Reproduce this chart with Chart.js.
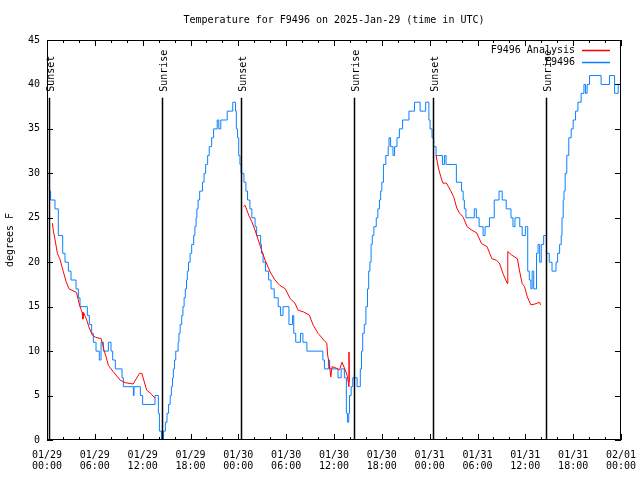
<!DOCTYPE html>
<html>
<head>
<meta charset="utf-8">
<script src="https://cdn.jsdelivr.net/npm/chart.js@4.4.1/dist/chart.umd.min.js"></script>
<style>
  html, body { margin: 0; padding: 0; background: #fff; }
  canvas { display: block; }
</style>
</head>
<body>
<canvas id="tempChart" width="640" height="480"></canvas>
<script>
const chartTitle = "Temperature for F9496 on 2025-Jan-29 (time in UTC)";
const yAxisTitle = "degrees F";

// x tick labels, one per 6 hours
const xTickDates = ["01/29", "01/29", "01/29", "01/29", "01/30", "01/30", "01/30", "01/30", "01/31", "01/31", "01/31", "01/31", "02/01"];
const xTickTimes = ["00:00", "06:00", "12:00", "18:00", "00:00", "06:00", "12:00", "18:00", "00:00", "06:00", "12:00", "18:00", "00:00"];

// sunrise / sunset markers (hours since 01/29 00:00)
const eventHours = [0.29, 14.47, 24.34, 38.56, 48.47, 62.65];
const eventLabels = ["Sunset", "Sunrise", "Sunset", "Sunrise", "Sunset", "Sunrise"];
const eventTop = 38.5;

// F9496 observations (hour, degrees F)
const obsHours = [
  0.0, 0.3, 0.45, 1.0, 1.42, 1.97, 2.26, 2.68, 3.01, 3.64,
  3.93, 4.14, 5.06, 5.31, 5.6, 5.81, 6.15, 6.56, 6.78, 7.07,
  7.7, 8.03, 8.24, 8.57, 9.41, 9.58, 10.83, 10.92, 11.71, 12.0,
  13.55, 13.97, 14.1, 14.35, 14.6, 14.85, 15.05, 15.25, 15.45, 15.6,
  15.75, 15.85, 16.0, 16.15, 16.45, 16.55, 16.7, 16.9, 17.05, 17.2,
  17.35, 17.5, 17.6, 17.75, 17.95, 18.15, 18.4, 18.55, 18.7, 18.8,
  18.95, 19.15, 19.5, 19.7, 19.9, 20.15, 20.35, 20.65, 20.9, 21.35,
  21.55, 21.8, 22.6, 23.3, 23.65, 23.75, 23.9, 24.05, 24.2, 24.35,
  24.7, 24.95, 25.15, 25.45, 25.7, 26.1, 26.3, 26.8, 26.9, 27.1,
  27.4, 27.8, 28.1, 28.5, 29.0, 29.3, 29.6, 30.35, 30.8, 30.95,
  31.2, 31.8, 32.1, 32.6, 34.6, 34.8, 35.3, 35.45, 36.5, 36.9,
  37.3, 37.55, 37.7, 37.85, 37.95, 38.15, 38.35, 38.9, 39.3, 39.45,
  39.6, 39.8, 40.0, 40.2, 40.35, 40.5, 40.65, 40.8, 41.0, 41.3,
  41.5, 41.7, 41.85, 42.0, 42.2, 42.5, 42.8, 42.9, 43.1, 43.4,
  43.6, 43.9, 44.2, 44.6, 45.4, 46.1, 46.8, 47.5, 47.9, 48.05,
  48.3, 48.5, 48.8, 49.6, 49.85, 50.05, 51.35, 52.0, 52.2, 52.35,
  52.55, 53.6, 53.85, 54.2, 54.7, 54.95, 55.5, 56.1, 56.7, 57.1,
  57.6, 58.2, 58.45, 58.7, 59.3, 59.6, 60.0, 60.3, 60.5, 60.7,
  60.85, 61.05, 61.4, 61.6, 61.8, 62.0, 62.3, 62.65, 63.0, 63.35,
  63.85, 64.05, 64.3, 64.5, 64.6, 64.75, 64.85, 65.0, 65.2, 65.45,
  65.75, 66.0, 66.3, 66.6, 67.0, 67.35, 67.55, 67.75, 68.05, 69.5,
  70.55, 71.2, 71.65, 72.0
];
const obsTemps = [
  30, 28, 27, 26, 23, 21, 20, 19, 18, 17,
  16, 15, 14, 13, 12, 11, 10, 9, 11, 10,
  11, 10, 9, 8, 7, 6, 5, 6, 5, 4,
  5, 3, 1, 0, 1, 2, 3, 4, 5, 6,
  7, 8, 9, 10, 11, 12, 13, 14, 15, 16,
  17, 18, 19, 20, 21, 22, 23, 24, 25, 26,
  27, 28, 29, 30, 31, 32, 33, 34, 35, 36,
  35, 36, 37, 38, 37, 35, 34, 32, 31, 30,
  29, 28, 27, 26, 25, 24, 23, 22, 21, 20,
  19, 18, 17, 16, 15, 14, 15, 13, 14, 12,
  11, 12, 11, 10, 9, 8, 9, 8, 7, 8,
  7, 3, 2, 3, 5, 6, 7, 6, 8, 10,
  12, 13, 15, 17, 19, 20, 22, 23, 24, 25,
  26, 27, 28, 29, 31, 32, 33, 34, 33, 32,
  33, 34, 35, 36, 37, 38, 37, 38, 36, 35,
  34, 33, 32, 31, 32, 31, 29, 28, 27, 26,
  25, 26, 25, 24, 23, 24, 25, 27, 28, 27,
  26, 25, 24, 25, 24, 23, 24, 19, 18, 17,
  19, 17, 21, 22, 20, 22, 23, 21, 20, 19,
  20, 21, 22, 23, 25, 27, 28, 30, 32, 34,
  35, 36, 37, 38, 39, 40, 39, 40, 41, 40,
  41, 39, 40, 40
];

// F9496 analysis (hour, degrees F), null = gap
const anlHours = [
  0.67, 0.8, 1.0, 1.3, 1.6, 2.0, 2.4, 2.76, 3.7, 4.1,
  4.4, 4.5, 4.6, 4.9, 5.3, 5.7, 6.1, 6.8, 7.15, 7.4,
  7.7, 8.3, 9.16, 9.8, 10.8, 11.6, 11.9, 12.5, 13.0, 13.55,
  18,
  24.65, 24.85, 25.3, 25.7, 26.1, 26.5, 26.9, 27.35, 28.0, 28.6,
  29.2, 29.9, 30.5, 31.1, 31.5, 32.2, 32.9, 33.4, 34.0, 34.9,
  35.1, 35.2, 35.4, 35.6, 35.75, 36.35, 36.7, 37.0, 37.4, 37.7,
  37.85, 37.88, 37.92,
  43,
  48.8, 49.1, 49.4, 49.65, 50.1, 50.6, 51.0, 51.4, 51.75, 52.2,
  52.7, 53.3, 53.9, 54.5, 55.2, 55.8, 56.4, 56.75, 57.25, 57.75,
  57.8, 58.3, 59.0, 59.3, 59.6, 59.9, 60.25, 60.7, 61.2, 61.8,
  61.9
];
const anlTemps = [
  24.4, 23.5, 22.6, 21.0, 20.4, 19.1, 17.8, 17.0, 16.6, 15.1,
  14.4, 13.6, 14.3, 13.7, 12.6, 11.8, 11.55, 11.4, 10.1, 9.4,
  8.4, 7.7, 6.75, 6.45, 6.3, 7.5, 7.5, 5.6, 5.25, 4.7,
  null,
  26.25, 26.4, 25.3, 24.55, 23.6, 22.5, 21.4, 20.25, 18.9, 18.0,
  17.4, 17.0, 15.9, 15.4, 14.6, 14.4, 14.06, 12.9, 12.0, 11.06,
  10.9, 9.56, 8.6, 7.1, 8.25, 8.06, 7.9, 8.75, 7.9, 7.1,
  6.0, 9.9, 6.5,
  null,
  32.06, 30.6, 29.6, 28.9, 28.9, 28.1, 27.4, 26.1, 25.5, 25.1,
  24.0, 23.6, 23.3, 22.1, 21.75, 20.4, 20.2, 19.9, 18.6, 17.6,
  21.2, 20.8, 20.4, 18.9, 17.6, 17.25, 16.1, 15.2, 15.3, 15.5,
  15.2
];

const FONT = '"DejaVu Sans Mono", monospace';

const gnuplotDecor = {
  id: "gnuplotDecor",
  afterDatasetsDraw(chart) {
    const { ctx, scales: { x, y } } = chart;
    ctx.save();
    ctx.strokeStyle = "#000";
    ctx.fillStyle = "#000";
    ctx.lineWidth = 1.5;
    ctx.font = "10px " + FONT;
    eventHours.forEach((h, i) => {
      const px = Math.round(x.getPixelForValue(h)) + 0.5;
      const top = y.getPixelForValue(eventTop);
      ctx.beginPath();
      ctx.moveTo(px, y.getPixelForValue(0));
      ctx.lineTo(px, top);
      ctx.stroke();
      ctx.save();
      ctx.translate(px + 2, top - 6);
      ctx.rotate(-Math.PI / 2);
      ctx.textAlign = "left";
      ctx.textBaseline = "middle";
      ctx.fillText(eventLabels[i], 0, 0);
      ctx.restore();
    });
    ctx.restore();
  },
  afterDraw(chart) {
    const { ctx, chartArea: a, scales: { x, y } } = chart;
    ctx.save();
    ctx.strokeStyle = "#000";
    ctx.lineWidth = 1;

    // plot border
    ctx.strokeRect(a.left + 0.5, a.top + 0.5, a.right - a.left - 1, a.bottom - a.top - 1);

    // inward ticks, mirrored
    ctx.beginPath();
    x.ticks.forEach(t => {
      const px = Math.round(x.getPixelForValue(t.value)) + 0.5;
      const len = t.value % 6 === 0 ? 6 : 3;
      ctx.moveTo(px, a.bottom); ctx.lineTo(px, a.bottom - len);
      ctx.moveTo(px, a.top); ctx.lineTo(px, a.top + len);
    });
    y.ticks.forEach(t => {
      const py = Math.round(y.getPixelForValue(t.value)) + 0.5;
      ctx.moveTo(a.left, py); ctx.lineTo(a.left + 6, py);
      ctx.moveTo(a.right, py); ctx.lineTo(a.right - 6, py);
    });
    ctx.stroke();

    // title
    ctx.fillStyle = "#000";
    ctx.font = "10px " + FONT;
    ctx.textAlign = "center";
    ctx.textBaseline = "middle";
    ctx.fillText(chartTitle, (a.left + a.right) / 2, 20);

    // key
    chart.data.datasets.forEach((ds, i) => {
      const ry = a.top + 10 + i * 12;
      ctx.textAlign = "right";
      ctx.fillStyle = "#000";
      ctx.fillText(ds.label, a.right - 46, ry);
      ctx.strokeStyle = ds.borderColor;
      ctx.lineWidth = 1.5;
      ctx.beginPath();
      ctx.moveTo(a.right - 39, ry + 0.5);
      ctx.lineTo(a.right - 11, ry + 0.5);
      ctx.stroke();
    });
    ctx.restore();
  }
};

new Chart(document.getElementById("tempChart").getContext("2d"), {
  type: "line",
  data: {
    datasets: [
      {
        label: "F9496 Analysis",
        data: anlHours.map((h, i) => ({ x: h, y: anlTemps[i] })),
        borderColor: "#ff0000",
        borderWidth: 1,
        pointRadius: 0,
        spanGaps: false,
      },
      {
        label: "F9496",
        data: obsHours.map((h, i) => ({ x: h, y: obsTemps[i] })),
        borderColor: "#0a80ff",
        borderWidth: 1,
        pointRadius: 0,
        stepped: true,
      },
    ],
  },
  options: {
    responsive: false,
    animation: false,
    devicePixelRatio: 1,
    layout: { padding: { top: 40, right: 19, left: 0, bottom: 0 } },
    plugins: {
      legend: { display: false },
      tooltip: { enabled: false },
      title: { display: false },
    },
    scales: {
      x: {
        type: "linear",
        min: 0,
        max: 72,
        grid: { display: false, drawTicks: false },
        border: { display: false },
        ticks: {
          stepSize: 2,
          autoSkip: false,
          maxRotation: 0,
          padding: 10,
          color: "#000",
          font: { family: FONT, size: 10, lineHeight: 1.1 },
          callback: v => (v % 6 === 0 ? [xTickDates[v / 6], xTickTimes[v / 6]] : ""),
        },
        afterFit: s => {
          s.height = 40;
          s.paddingLeft = 0;
          s.paddingRight = 0;
        },
      },
      y: {
        min: 0,
        max: 45,
        grid: { display: false, drawTicks: false },
        border: { display: false },
        ticks: {
          stepSize: 5,
          padding: 7,
          color: "#000",
          font: { family: FONT, size: 10 },
        },
        title: {
          display: true,
          text: yAxisTitle,
          color: "#000",
          padding: { top: 4, bottom: 0 },
          font: { family: FONT, size: 10 },
        },
        afterFit: s => {
          s.width = 47;
          s.paddingTop = 0;
          s.paddingBottom = 0;
        },
      },
    },
  },
  plugins: [gnuplotDecor],
});
</script>
</body>
</html>
